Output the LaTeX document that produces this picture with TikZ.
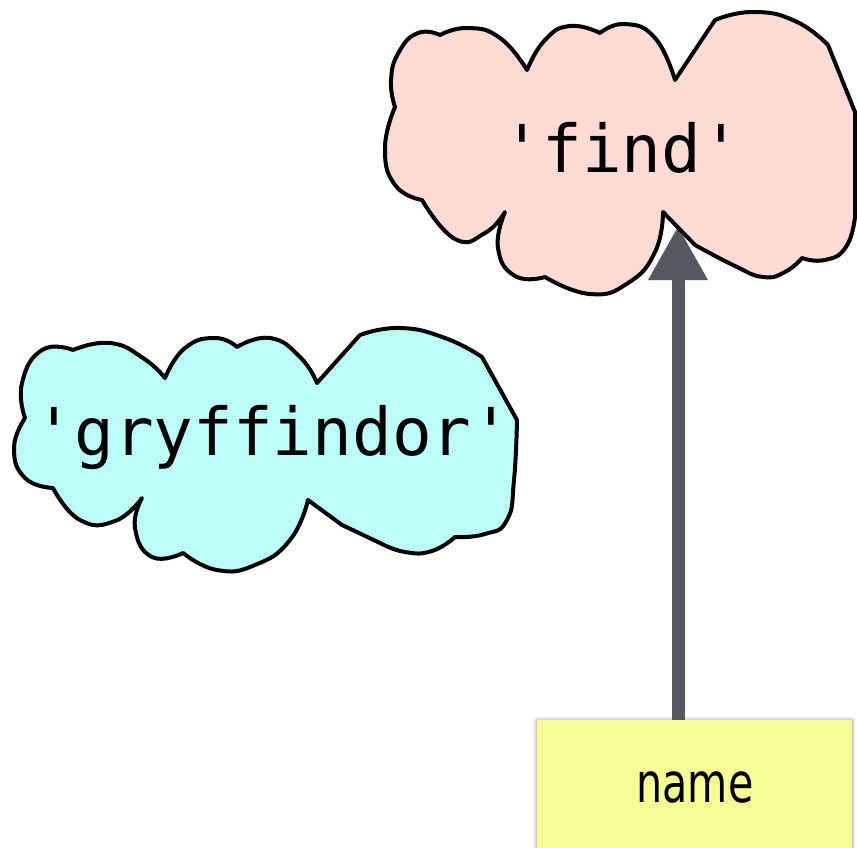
\documentclass[tikz,border=0pt]{standalone}
\usepackage{fontspec}
\setmonofont{DejaVu Sans Mono}
\newfontfamily\labelfont{DejaVu Sans}
\usetikzlibrary{arrows.meta,shadows.blur}

\definecolor{findfill}{RGB}{255,219,214}
\definecolor{gryffill}{RGB}{187,255,247}
\definecolor{namefill}{RGB}{246,253,149}
\definecolor{arrowgray}{RGB}{85,89,95}

\tikzset{
  cloudline/.style={draw=black, line width=4pt, line join=round},
  bump/.style={smooth, tension=0.85},
  codetext/.style={font=\ttfamily\fontsize{66}{66}\selectfont, inner sep=0pt, anchor=base},
  namebox/.style={fill=namefill, draw=none, minimum width=315pt, minimum height=150pt,
    inner sep=0pt, anchor=north,
    blur shadow={shadow xshift=0pt, shadow yshift=0pt, shadow blur radius=4pt, shadow opacity=45}},
  nametext/.style={font=\labelfont\fontsize{55}{55}\selectfont, inner sep=0pt, anchor=base},
  pointer/.style={draw=arrowgray, line width=13pt, -{Triangle[width=56pt,length=54pt]}}
}

\begin{document}
\begin{tikzpicture}[x=1pt, y=-1pt]
\clip (0,0) rectangle (857,848);

% value box and the pointer into the string cloud
\node[namebox] (namebox) at (694.5,720) {};
\node[nametext] (namelabel) at (695,802) {\scalebox{0.75}[1]{name}};
\coordinate (findtip) at (678,226);
\draw[pointer] (findtip |- namebox.north) -- (findtip);

% string object 'find'
\path[cloudline, fill=findfill]
  (395,107)
  -- plot[bump] coordinates {(395,107) (391,80) (399,52) (418,33) (440,35)}
  -- plot[bump] coordinates {(440,35) (468,28) (500,38) (527,70)}
  -- plot[bump] coordinates {(527,70) (545,40) (570,26) (600,33)}
  -- plot[bump] coordinates {(600,33) (625,24) (655,38) (675,80)}
  -- (715,20)
  -- plot[bump] coordinates {(715,20) (753,12) (795,21) (828,45)}
  -- (855,112) -- (855,217)
  -- plot[bump] coordinates {(855,217) (846,247) (825,260) (802,258)}
  -- plot[bump] coordinates {(802,258) (785,272) (763,277) (735,266) (695,245)}
  -- (663,212)
  -- plot[bump] coordinates {(663,212) (655,252) (628,283) (590,294) (545,277)}
  -- plot[bump] coordinates {(545,277) (515,276) (498,248) (505,212)}
  -- plot[bump] coordinates {(505,212) (485,233) (455,239) (422,200)}
  -- plot[bump] coordinates {(422,200) (395,185) (385,148) (395,107)}
  -- cycle;
\node[codetext] (findtext) at (622,172) {\textquotesingle find\textquotesingle};

% string object 'gryffindor'
\path[cloudline, fill=gryffill]
  (25,418)
  -- plot[bump] coordinates {(25,418) (22,383) (42,350) (73,350)}
  -- plot[bump] coordinates {(73,350) (110,343) (143,358) (165,378)}
  -- plot[bump] coordinates {(165,378) (185,348) (215,338) (237,347)}
  -- plot[bump] coordinates {(237,347) (270,338) (300,357) (317,383)}
  -- (360,335)
  -- plot[bump] coordinates {(360,335) (400,328) (445,338) (482,357)}
  -- (517,420)
  -- plot[bump] coordinates {(517,420) (514,480) (507,520) (485,534) (455,537)}
  -- plot[bump] coordinates {(455,537) (432,551) (405,552) (380,543)}
  -- (342,525) -- (308,500)
  -- plot[bump] coordinates {(308,500) (290,540) (255,565) (217,570) (183,553)}
  -- plot[bump] coordinates {(183,553) (152,557) (135,528) (142,498)}
  -- plot[bump] coordinates {(142,498) (115,521) (80,520) (53,488)}
  -- plot[bump] coordinates {(53,488) (25,478) (14,448) (25,418)}
  -- cycle;
\node[codetext] (gryftext) at (273,455) {\textquotesingle gryffindor\textquotesingle};
\end{tikzpicture}
\end{document}
